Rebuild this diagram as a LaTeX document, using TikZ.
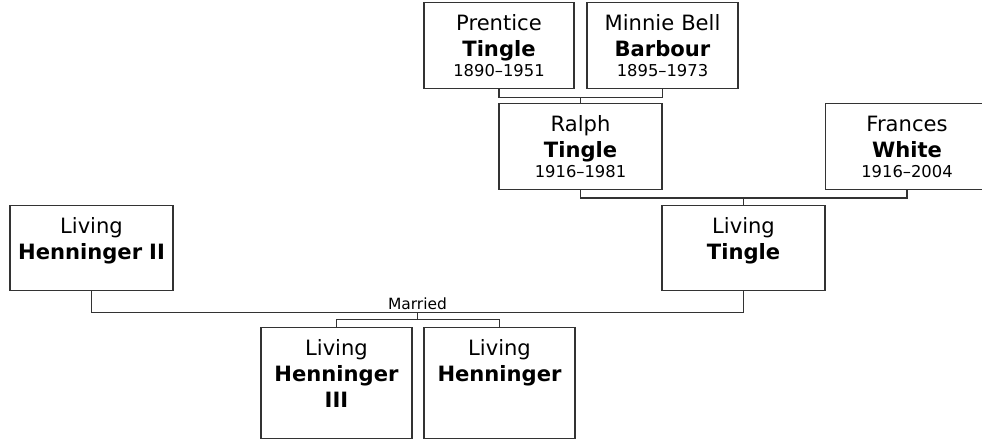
\documentclass[tikz,border=0pt]{standalone}
\usepackage{fontspec}
\setmainfont{DejaVu Sans}
\usepackage{tikz}
\usetikzlibrary{calc,positioning}
\definecolor{boxEdge}{HTML}{333333}
\definecolor{linkCol}{HTML}{333333}
\newcommand{\lifespan}[1]{{\fontsize{9.3}{11}\selectfont #1}}
\tikzset{
  person/.style n args={2}{draw=boxEdge, fill=white, line width=0.8pt, align=center,
        font=\fontsize{12}{14.7}\selectfont, inner sep=0pt, anchor=north,
        text width=#1, text height=0.56cm, text depth=#2},
  link/.style={draw=linkCol, line width=0.8pt},
  mlbl/.style={font=\fontsize{8.8}{10}\selectfont, inner sep=1.5pt, above},
}

\begin{document}
\begin{tikzpicture}
  \useasboundingbox (0,0) rectangle (19.64,8.8);
  % grandparents
  \node[person={3.0cm}{1.16cm}] (pt) at (9.98,8.76) {Prentice\\\textbf{Tingle}\\[-3.4pt]\lifespan{1890--1951}};
  \node[person={3.02cm}{1.16cm}] (mb) at (13.25,8.76) {Minnie Bell\\\textbf{Barbour}\\[-3.4pt]\lifespan{1895--1973}};
  % parents
  \node[person={3.26cm}{1.16cm}] (ra) at (11.61,6.74) {Ralph\\\textbf{Tingle}\\[-3.4pt]\lifespan{1916--1981}};
  \node[person={3.26cm}{1.16cm}] (fw) at (18.14,6.74) {Frances\\\textbf{White}\\[-3.4pt]\lifespan{1916--2004}};
  \node[person={3.26cm}{1.14cm}] (lt) at (14.87,4.70) {Living\\\textbf{Tingle}};
  \node[person={3.26cm}{1.14cm}] (h2) at (1.83,4.70) {Living\\\textbf{Henninger II}};
  % children
  \node[person={3.02cm}{1.66cm}] (h3) at (6.73,2.26) {Living\\\textbf{Henninger}\\\textbf{III}};
  \node[person={3.02cm}{1.66cm}] (hn) at (9.99,2.26) {Living\\\textbf{Henninger}};
  % couples
  \draw[link] (pt.south) -- ++(0,-0.16) coordinate (c1) -| (mb.south);
  \draw[link] (c1 -| ra.north) -- (ra.north);
  \draw[link] (ra.south) -- ++(0,-0.15) coordinate (c2) -| (fw.south);
  \draw[link] (c2 -| lt.north) -- (lt.north);
  \draw[link] (h2.south) -- ++(0,-0.42) coordinate (c3) -| (lt.south);
  \coordinate (m3) at ($(c3)!0.5!(c3 -| lt.south)$);
  \node[mlbl] (mar) at (m3) {Married};
  % children bar
  \draw[link] (m3) -- ++(0,-0.14) coordinate (k3);
  \draw[link] (h3.north) |- (k3) -| (hn.north);
\end{tikzpicture}
\end{document}
